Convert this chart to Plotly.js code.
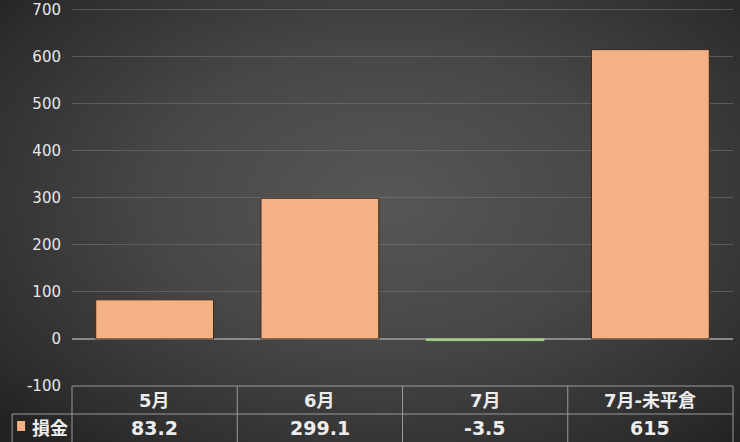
<!DOCTYPE html>
<html>
<head>
<meta charset="utf-8">
<script src="https://cdn.plot.ly/plotly-3.0.1.min.js"></script>
<style>
html,body{margin:0;padding:0;}
#chart{width:740px;height:442px;background:radial-gradient(ellipse 70% 75% at 52% 45%, #575757 0%, #474747 45%, #2e2e2e 85%, #222222 100%);}
</style>
</head>
<body>
<div id="chart"></div>
<script>
const categories = ['5月', '6月', '7月', '7月-未平倉'];
const values = [83.2, 299.1, -3.5, 615];
const valueLabels = ['83.2', '299.1', '-3.5', '615'];
const seriesName = '損金';
const yTicks = [-100, 0, 100, 200, 300, 400, 500, 600, 700];

const posColor = '#F4B183';
const negColor = '#A9D18E';
const font = '"DejaVu Sans", "Noto Sans CJK JP", sans-serif';

const trace = {
  type: 'bar',
  x: categories,
  y: values,
  marker: {
    color: values.map(v => v >= 0 ? posColor : negColor),
    line: {color: values.map(v => v >= 0 ? '#3b2a1c' : '#9fd07e'), width: 1}
  },
  hoverinfo: 'none'
};

const lineColor = '#9a9a9a';
const rowH = 28;
const plotH = 442 - 4 - 56;
const r1 = -rowH / plotH;
const r2 = -2 * rowH / plotH;
const shapes = [];
shapes.push({type:'line', xref:'paper', yref:'paper', x0:0, x1:1, y0:0, y1:0, line:{color:lineColor, width:1}});
shapes.push({type:'line', xref:'paper', yref:'paper', x0:-60/662, x1:1, y0:r1, y1:r1, line:{color:lineColor, width:1}});
shapes.push({type:'line', xref:'paper', yref:'paper', x0:-60/662, x1:-60/662, y0:r1, y1:r2, line:{color:lineColor, width:1}});
for (let i = 0; i <= categories.length; i++) {
  const xp = i / categories.length;
  shapes.push({type:'line', xref:'paper', yref:'paper', x0:xp, x1:xp, y0:0, y1:r2, line:{color:lineColor, width:1}});
}
shapes.push({type:'rect', xref:'paper', yref:'paper', x0:-55/662, x1:-47/662, y0:(-35)/plotH, y1:(-45)/plotH, fillcolor:posColor, line:{width:0}});

const annotations = [];
categories.forEach((c, i) => {
  annotations.push({x:c, xref:'x', y:-rowH/2/plotH, yref:'paper', text:'<b>'+c+'</b>', showarrow:false,
    font:{family:font, size:18, color:'#ececec'}, xanchor:'center', yanchor:'middle'});
  annotations.push({x:c, xref:'x', y:-1.5*rowH/plotH, yref:'paper', text:'<b>'+valueLabels[i]+'</b>', showarrow:false,
    font:{family:font, size:19, color:'#ececec'}, xanchor:'center', yanchor:'middle'});
});
annotations.push({x:-42/662, xref:'paper', y:-1.5*rowH/plotH, yref:'paper', text:'<b>'+seriesName+'</b>', showarrow:false,
  font:{family:font, size:18, color:'#ececec'}, xanchor:'left', yanchor:'middle'});

const layout = {
  width: 740, height: 442,
  margin: {l:72, r:7, t:4, b:56, pad:0},
  paper_bgcolor: 'rgba(0,0,0,0)',
  plot_bgcolor: 'rgba(0,0,0,0)',
  showlegend: false,
  bargap: 0.287,
  xaxis: {showticklabels:false, showgrid:false, zeroline:false, showline:false, ticks:''},
  yaxis: {range:[-100, 712], tickvals:yTicks, ticktext:yTicks.map(String),
    showgrid:true, gridcolor:'rgba(120,120,120,0.55)', gridwidth:1,
    zeroline:true, zerolinecolor:'#8a8a8a', zerolinewidth:1.5,
    showline:false, ticks:'', ticklabelstandoff:10, ticklabeloverflow:'allow',
    tickfont:{family:font, size:15, color:'#e6e6e6'}},
  shapes: shapes,
  annotations: annotations
};

Plotly.newPlot('chart', [trace], layout, {displayModeBar:false, staticPlot:true});
</script>
</body>
</html>
